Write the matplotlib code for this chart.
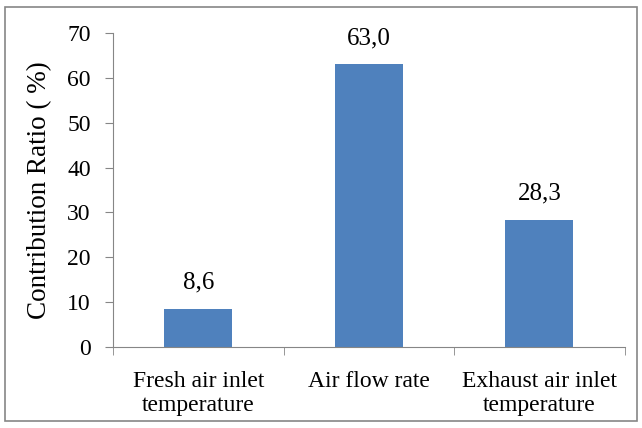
import matplotlib
matplotlib.use("Agg")
import matplotlib.pyplot as plt
from matplotlib.patches import Rectangle
import numpy as np

categories = ["Fresh air inlet\ntemperature", "Air flow rate", "Exhaust air inlet\ntemperature"]
ratios = [8.6, 63.0, 28.3]
yticks = [0, 10, 20, 30, 40, 50, 60, 70]

plt.rcParams['font.family'] = ['Liberation Serif', 'DejaVu Serif']

fig = plt.figure(figsize=(6.42, 4.28), dpi=100)
ax = fig.add_axes([0.176, 0.189, 0.797, 0.734])

x = np.arange(len(categories))
ax.bar(x, ratios, width=0.4, color='#4F81BD')
for xi, v in zip(x, ratios):
    ax.annotate(f"{v:.1f}".replace(".", ","), (xi, v), xytext=(0, 11),
                textcoords='offset points', ha='center', va='bottom', fontsize=18)

ax.set_xlim(-0.5, len(categories) - 0.5)
ax.set_ylim(0, 70)
ax.set_yticks(yticks)
ax.set_yticklabels([str(t) for t in yticks], fontsize=17)
ax.set_xticks(x)
ax.set_xticklabels(categories, fontsize=17, linespacing=1.2)
ax.set_xticks(np.arange(len(categories) + 1) - 0.5, minor=True)
ax.tick_params(axis='x', which='major', length=0, pad=17)
ax.tick_params(axis='x', which='minor', length=6, color='#868686', direction='out')
ax.tick_params(axis='y', length=6, color='#868686', direction='out', pad=10)
ax.set_ylabel("Contribution Ratio ( %)", fontsize=19.5, labelpad=11)

for s in ['top', 'right']:
    ax.spines[s].set_visible(False)
for s in ['left', 'bottom']:
    ax.spines[s].set_color('#868686')

fig.patches.append(Rectangle((0.008, 0.016), 0.984, 0.968, transform=fig.transFigure,
                             fill=False, edgecolor='#868686', linewidth=1.2))

fig.savefig("out.png", dpi=100)
